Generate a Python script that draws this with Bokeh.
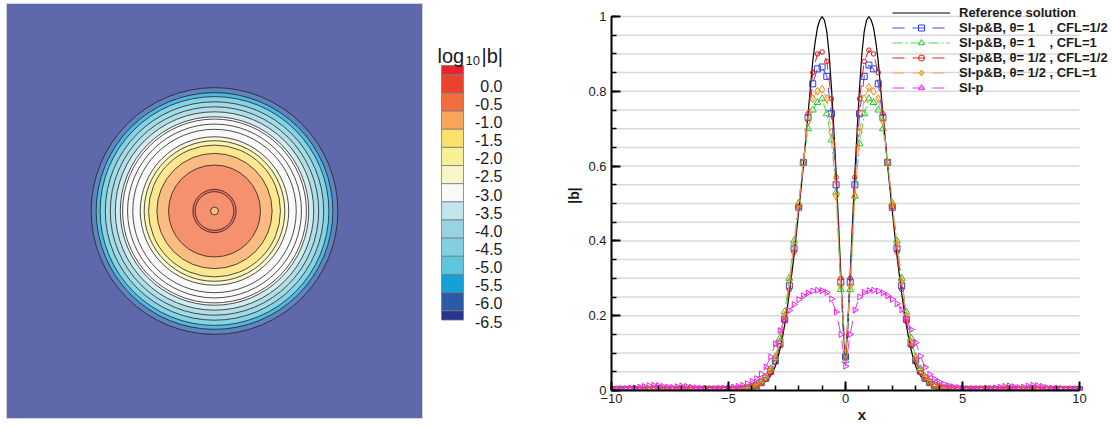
import math
from bokeh.plotting import figure
from bokeh.models import (ColumnDataSource, Range1d, Label, Legend, LegendItem,
                          SingleIntervalTicker)
from bokeh.layouts import row
from bokeh.embed import file_html
from bokeh.resources import INLINE
from bokeh.core.properties import value

FONT = "Liberation Sans"

# ---------------- left panel: log10|b| contour (radially symmetric) ----------------
cbar_levels = [0.0, -0.5, -1.0, -1.5, -2.0, -2.5, -3.0, -3.5, -4.0, -4.5, -5.0, -5.5, -6.0, -6.5]
cbar_labels = ["0.0", "-0.5", "-1.0", "-1.5", "-2.0", "-2.5", "-3.0", "-3.5",
               "-4.0", "-4.5", "-5.0", "-5.5", "-6.0", "-6.5"]
cbar_colors = ["#e8222a", "#ec412d", "#f26c3f", "#f8a65a", "#fddf6c", "#f7f095", "#f8f5c8",
               "#f9f9f9", "#c2e5ec", "#95d4e0", "#84cfdf", "#5cc6de", "#16a0da", "#2a5ba8",
               "#2a358f"]
# contour band boundaries (radius, outer to inner) and colour band inside each
ring_radius = [5.93, 5.69, 5.50, 5.25, 5.01, 4.77, 4.53, 3.57, 3.38, 3.17, 2.77, 2.21, 1.04, 0.93, 0.19]
ring_band = [13, 12, 11, 10, 9, 8, 7, 6, 5, 4, 3, 2, 1, 2, 3]
extra_line_radius = [4.42, 4.18, 3.93]
outside_band = 14

# ---------------- right panel: |b| along x ----------------
ref_x = [-10.0, -5.0, -4.5, -4.0, -3.9, -3.8, -3.7, -3.6, -3.5, -3.4, -3.3, -3.2, -3.1, -3.0,
         -2.9, -2.8, -2.7, -2.6, -2.5, -2.4, -2.3, -2.2, -2.1, -2.0, -1.9, -1.8, -1.7, -1.6,
         -1.5, -1.4, -1.3, -1.2, -1.1, -1.0, -0.9, -0.8, -0.7, -0.6, -0.5, -0.4, -0.3, -0.2,
         -0.1, 0.0, 0.1, 0.2, 0.3, 0.4, 0.5, 0.6, 0.7, 0.8, 0.9, 1.0, 1.1, 1.2, 1.3, 1.4, 1.5,
         1.6, 1.7, 1.8, 1.9, 2.0, 2.1, 2.2, 2.3, 2.4, 2.5, 2.6, 2.7, 2.8, 2.9, 3.0, 3.1, 3.2,
         3.3, 3.4, 3.5, 3.6, 3.7, 3.8, 3.9, 4.0, 4.5, 5.0, 10.0]
ref_y = [0.001, 0.001, 0.002, 0.005, 0.007, 0.009, 0.012, 0.015, 0.02, 0.025, 0.032, 0.04, 0.05,
         0.065, 0.085, 0.11, 0.14, 0.175, 0.215, 0.26, 0.31, 0.36, 0.42, 0.48, 0.54, 0.60, 0.67,
         0.74, 0.81, 0.88, 0.93, 0.97, 0.99, 1.0, 0.99, 0.96, 0.90, 0.81, 0.70, 0.58, 0.45, 0.31,
         0.17, 0.08, 0.17, 0.31, 0.45, 0.58, 0.70, 0.81, 0.90, 0.96, 0.99, 1.0, 0.99, 0.97, 0.93,
         0.88, 0.81, 0.74, 0.67, 0.60, 0.54, 0.48, 0.42, 0.36, 0.31, 0.26, 0.215, 0.175, 0.14,
         0.11, 0.085, 0.065, 0.05, 0.04, 0.032, 0.025, 0.02, 0.015, 0.012, 0.009, 0.007, 0.005,
         0.002, 0.001, 0.001]

sim_x = [-10.0, -9.8, -9.6, -9.4, -9.2, -9.0, -8.8, -8.6, -8.4, -8.2,
         -8.0, -7.8, -7.6, -7.4, -7.2, -7.0, -6.8, -6.6, -6.4, -6.2,
         -6.0, -5.8, -5.6, -5.4, -5.2, -5.0, -4.8, -4.6, -4.4, -4.2,
         -4.0, -3.8, -3.6, -3.4, -3.2, -3.0, -2.8, -2.6, -2.4, -2.2,
         -2.0, -1.8, -1.6, -1.4, -1.2, -1.0, -0.8, -0.6, -0.4, -0.2,
         0.0,
         0.2, 0.4, 0.6, 0.8, 1.0, 1.2, 1.4, 1.6, 1.8, 2.0,
         2.2, 2.4, 2.6, 2.8, 3.0, 3.2, 3.4, 3.6, 3.8, 4.0,
         4.2, 4.4, 4.6, 4.8, 5.0, 5.2, 5.4, 5.6, 5.8, 6.0,
         6.2, 6.4, 6.6, 6.8, 7.0, 7.2, 7.4, 7.6, 7.8, 8.0,
         8.2, 8.4, 8.6, 8.8, 9.0, 9.2, 9.4, 9.6, 9.8, 10.0]

b_theta1_cfl05 = [0.002, 0.002, 0.002, 0.002, 0.002, 0.002, 0.002, 0.002, 0.002, 0.002,
                  0.002, 0.002, 0.002, 0.002, 0.002, 0.002, 0.002, 0.002, 0.002, 0.002,
                  0.002, 0.002, 0.002, 0.002, 0.002, 0.002, 0.003, 0.003, 0.004, 0.006,
                  0.009, 0.013, 0.021, 0.033, 0.051, 0.079, 0.124, 0.19, 0.28, 0.38,
                  0.49, 0.61, 0.73, 0.82, 0.86, 0.865, 0.84, 0.74, 0.55, 0.29,
                  0.09,
                  0.29, 0.55, 0.74, 0.84, 0.87, 0.86, 0.82, 0.73, 0.61, 0.49,
                  0.38, 0.28, 0.19, 0.125, 0.08, 0.052, 0.033, 0.021, 0.013, 0.009,
                  0.006, 0.004, 0.003, 0.003, 0.002, 0.002, 0.002, 0.002, 0.002, 0.002,
                  0.002, 0.002, 0.002, 0.002, 0.002, 0.002, 0.002, 0.002, 0.002, 0.002,
                  0.002, 0.002, 0.002, 0.002, 0.002, 0.002, 0.002, 0.002, 0.002, 0.002]

b_theta1_cfl1 = [0.002, 0.002, 0.002, 0.002, 0.002, 0.002, 0.002, 0.002, 0.002, 0.002,
                 0.002, 0.002, 0.002, 0.002, 0.002, 0.002, 0.002, 0.002, 0.002, 0.002,
                 0.002, 0.002, 0.002, 0.002, 0.002, 0.002, 0.003, 0.004, 0.005, 0.007,
                 0.01, 0.015, 0.024, 0.037, 0.058, 0.09, 0.14, 0.21, 0.30, 0.40,
                 0.50, 0.61, 0.70, 0.75, 0.77, 0.78, 0.74, 0.67, 0.53, 0.27,
                 0.08,
                 0.27, 0.52, 0.66, 0.74, 0.78, 0.77, 0.75, 0.70, 0.61, 0.50,
                 0.40, 0.30, 0.21, 0.14, 0.09, 0.058, 0.037, 0.024, 0.015, 0.01,
                 0.007, 0.005, 0.004, 0.003, 0.002, 0.002, 0.002, 0.002, 0.002, 0.002,
                 0.002, 0.002, 0.002, 0.002, 0.002, 0.002, 0.002, 0.002, 0.002, 0.002,
                 0.002, 0.002, 0.002, 0.002, 0.002, 0.002, 0.002, 0.002, 0.002, 0.002]

b_theta05_cfl05 = [0.002, 0.002, 0.002, 0.002, 0.002, 0.002, 0.002, 0.002, 0.002, 0.002,
                   0.002, 0.002, 0.002, 0.002, 0.002, 0.002, 0.002, 0.002, 0.002, 0.002,
                   0.002, 0.002, 0.002, 0.002, 0.002, 0.002, 0.002, 0.003, 0.004, 0.005,
                   0.008, 0.012, 0.019, 0.03, 0.047, 0.075, 0.12, 0.185, 0.27, 0.37,
                   0.49, 0.61, 0.74, 0.85, 0.90, 0.905, 0.88, 0.78, 0.57, 0.30,
                   0.09,
                   0.30, 0.57, 0.78, 0.88, 0.91, 0.90, 0.85, 0.74, 0.61, 0.49,
                   0.37, 0.27, 0.185, 0.12, 0.076, 0.048, 0.03, 0.019, 0.012, 0.008,
                   0.005, 0.004, 0.003, 0.002, 0.002, 0.002, 0.002, 0.002, 0.002, 0.002,
                   0.002, 0.002, 0.002, 0.002, 0.002, 0.002, 0.002, 0.002, 0.002, 0.002,
                   0.002, 0.002, 0.002, 0.002, 0.002, 0.002, 0.002, 0.002, 0.002, 0.002]

b_theta05_cfl1 = [0.003, 0.003, 0.003, 0.003, 0.003, 0.003, 0.003, 0.003, 0.003, 0.003,
                  0.003, 0.003, 0.003, 0.003, 0.003, 0.003, 0.003, 0.003, 0.003, 0.003,
                  0.003, 0.003, 0.003, 0.003, 0.003, 0.003, 0.003, 0.004, 0.005, 0.007,
                  0.01, 0.015, 0.023, 0.036, 0.055, 0.085, 0.13, 0.20, 0.29, 0.39,
                  0.50, 0.61, 0.72, 0.78, 0.80, 0.805, 0.78, 0.69, 0.52, 0.28,
                  0.10,
                  0.28, 0.52, 0.69, 0.78, 0.81, 0.80, 0.78, 0.72, 0.61, 0.50,
                  0.39, 0.29, 0.20, 0.13, 0.085, 0.055, 0.036, 0.023, 0.015, 0.01,
                  0.007, 0.005, 0.004, 0.003, 0.003, 0.003, 0.003, 0.003, 0.003, 0.003,
                  0.003, 0.003, 0.003, 0.003, 0.003, 0.003, 0.003, 0.003, 0.003, 0.003,
                  0.003, 0.003, 0.003, 0.003, 0.003, 0.003, 0.003, 0.003, 0.003, 0.003]

b_si_p = [0.004, 0.004, 0.005, 0.005, 0.006, 0.007, 0.009, 0.011, 0.013, 0.014,
          0.013, 0.011, 0.009, 0.008, 0.01, 0.012, 0.011, 0.009, 0.007, 0.006,
          0.006, 0.005, 0.005, 0.006, 0.006, 0.007, 0.009, 0.011, 0.014, 0.018,
          0.024, 0.032, 0.044, 0.063, 0.09, 0.125, 0.16, 0.19, 0.214, 0.23,
          0.243, 0.253, 0.261, 0.266, 0.268, 0.267, 0.262, 0.245, 0.21, 0.15,
          0.065,
          0.15, 0.215, 0.25, 0.262, 0.267, 0.268, 0.266, 0.261, 0.253, 0.244,
          0.232, 0.216, 0.193, 0.163, 0.128, 0.092, 0.062, 0.043, 0.031, 0.023,
          0.017, 0.013, 0.01, 0.008, 0.006, 0.005, 0.005, 0.005, 0.005, 0.006,
          0.006, 0.007, 0.009, 0.011, 0.012, 0.01, 0.008, 0.009, 0.012, 0.014,
          0.013, 0.011, 0.008, 0.006, 0.005, 0.005, 0.004, 0.004, 0.004, 0.004]

series_labels = ["Reference solution",
                 "SI-p&B, \u03b8= 1    , CFL=1/2",
                 "SI-p&B, \u03b8= 1    , CFL=1",
                 "SI-p&B, \u03b8= 1/2 , CFL=1/2",
                 "SI-p&B, \u03b8= 1/2 , CFL=1",
                 "SI-p"]
y_tick_labels = {0: "0", 1: "1"}
grid_y = [0.05, 0.1, 0.15, 0.2, 0.25, 0.3, 0.35, 0.4, 0.45, 0.5,
          0.55, 0.6, 0.65, 0.7, 0.75, 0.8, 0.85, 0.9, 0.95, 1.0]
x_lo, x_hi, y_lo, y_hi = -10.0, 10.0, 0.0, 1.0


def wash(hexc, a=0.75):
    r, g, b = int(hexc[1:3], 16), int(hexc[3:5], 16), int(hexc[5:7], 16)
    return "#%02x%02x%02x" % tuple(round(a * c + (1 - a) * 255) for c in (r, g, b))


def no_align(p):
    try:
        p.frame_align = False
    except Exception:
        pass


# ---------------- left figure ----------------
pL = figure(width=430, height=426, x_range=Range1d(-10, 10), y_range=Range1d(-10, 10),
            output_backend="svg", toolbar_location=None,
            x_axis_location=None, y_axis_location=None,
            min_border_left=6, min_border_right=8, min_border_top=3, min_border_bottom=8)
no_align(pL)
pL.grid.visible = False
pL.background_fill_color = wash(cbar_colors[outside_band])
pL.border_fill_color = "white"
pL.outline_line_color = "#cfd3e6"
pL.outline_line_width = 1

ring_src = ColumnDataSource(dict(
    x=[0.0] * len(ring_radius), y=[0.0] * len(ring_radius), r=ring_radius,
    c=[wash(cbar_colors[b]) for b in ring_band]))
pL.circle("x", "y", radius="r", fill_color="c", line_color="#222222", line_width=0.8,
          source=ring_src)
extra_src = ColumnDataSource(dict(x=[0.0] * len(extra_line_radius),
                                  y=[0.0] * len(extra_line_radius), r=extra_line_radius))
pL.circle("x", "y", radius="r", fill_color=None, line_color="#222222", line_width=0.8,
          source=extra_src)

# ---------------- colour bar figure ----------------
px_per_unit = 36.3
top_px = 74.3
pC = figure(width=100, height=426, x_range=Range1d(0, 100),
            y_range=Range1d(-(426 - top_px) / px_per_unit, top_px / px_per_unit),
            output_backend="svg", toolbar_location=None,
            x_axis_location=None, y_axis_location=None, min_border=0)
no_align(pC)
pC.grid.visible = False
pC.outline_line_color = None
cap = 0.256
tops = [cbar_levels[0] + cap] + cbar_levels
bots = cbar_levels + [cbar_levels[-1] - cap]
cb_src = ColumnDataSource(dict(top=tops, bottom=bots, left=[11] * len(tops),
                               right=[33] * len(tops), c=cbar_colors))
pC.quad(left="left", right="right", top="top", bottom="bottom", fill_color="c",
        line_color="#7a7a7a", line_width=0.8, source=cb_src)
lab_src = ColumnDataSource(dict(x=[72] * len(cbar_levels),
                                y=[v - 0.3 for v in cbar_levels], t=cbar_labels))
pC.text(x="x", y="y", text="t", source=lab_src, text_align="right",
        text_baseline="middle", text_font=value(FONT), text_font_size="16px",
        text_color="#1a1a1a")
pC.add_layout(Label(x=7, y=371, x_units="screen", y_units="screen", text="log",
                    text_font=FONT, text_font_size="20px", text_color="#1a1a1a",
                    text_baseline="alphabetic"))
pC.add_layout(Label(x=35, y=366, x_units="screen", y_units="screen", text="10",
                    text_font=FONT, text_font_size="13px", text_color="#1a1a1a",
                    text_baseline="alphabetic"))
pC.add_layout(Label(x=51, y=371, x_units="screen", y_units="screen", text="|b|",
                    text_font=FONT, text_font_size="20px", text_color="#1a1a1a",
                    text_baseline="alphabetic"))

# ---------------- right figure ----------------
# frame reaches the top and right edges so the legend is not clipped
pR = figure(width=582, height=426, x_range=Range1d(x_lo, x_hi + 33 / 23.4),
            y_range=Range1d(y_lo, y_hi + 16 / 374),
            output_backend="svg", toolbar_location=None,
            min_border_left=81, min_border_right=0, min_border_top=0, min_border_bottom=36)
no_align(pR)
pR.outline_line_color = None
pR.grid.visible = False
pR.segment(x0=[x_lo] * len(grid_y), x1=[x_hi] * len(grid_y), y0=grid_y, y1=grid_y,
           line_color="#d9d9d9", line_width=1.5)

pR.xaxis.ticker = SingleIntervalTicker(interval=5, num_minor_ticks=5)
pR.yaxis.ticker = SingleIntervalTicker(interval=0.2, num_minor_ticks=4)
pR.xaxis.bounds = (x_lo, x_hi)
pR.yaxis.bounds = (y_lo, y_hi)
pR.yaxis.major_label_overrides = y_tick_labels
for ax in (pR.xaxis[0], pR.yaxis[0]):
    ax.axis_line_width = 2
    ax.axis_line_color = "black"
    ax.major_tick_in = 9
    ax.major_tick_out = 0
    ax.minor_tick_in = 5
    ax.minor_tick_out = 0
    ax.major_tick_line_width = 2
    ax.minor_tick_line_width = 1.5
    ax.major_label_text_font = FONT
    ax.major_label_text_font_size = "13px"
    ax.major_label_text_color = "#1a1a1a"
    ax.axis_label_text_font = FONT
    ax.axis_label_text_font_style = "bold"
    ax.axis_label_text_color = "#1a1a1a"
pR.xaxis.axis_label = "x"
pR.xaxis.axis_label_text_font_size = "15px"
pR.xaxis.major_label_standoff = 3
pR.xaxis.axis_label_standoff = 0
pR.yaxis.axis_label = "|b|"
pR.yaxis.axis_label_text_font_size = "14px"
pR.yaxis.major_label_standoff = 5
pR.yaxis.axis_label_standoff = 3

r_ref = pR.line(ref_x, ref_y, line_color="black", line_width=1.2)

styles = [
    (b_theta1_cfl05, "#2a3cf0", "#3a4ff0", "square", 6, 0, "12 8"),
    (b_theta1_cfl1, "#2ec82e", "#44dd44", "triangle", 7, 0, "10 3 2 3"),
    (b_theta05_cfl05, "#e01414", "#e82020", "circle", 4.5, 0, "12 8"),
    (b_theta05_cfl1, "#ff8000", "#f7a050", "diamond", 8, 0, "12 8"),
    (b_si_p, "#ee22ee", "#ee33ee", "triangle", 6, -math.pi / 2, "12 8"),
]
items = [LegendItem(label=series_labels[0], renderers=[r_ref])]
for k, (ys, mcol, lcol, mk, sz, ang, dash) in enumerate(styles):
    rl = pR.line(sim_x, ys, line_color=lcol, line_width=1, line_dash=dash)
    rs = pR.scatter(sim_x, ys, marker=mk, size=sz, angle=ang, line_color=mcol,
                    fill_color=None, line_width=1)
    items.append(LegendItem(label=series_labels[k + 1], renderers=[rl, rs]))

legend = Legend(items=items, location=(281, 295), orientation="vertical",
                glyph_width=58, glyph_height=15, label_height=15, label_standoff=9,
                spacing=0, padding=0, margin=0,
                label_text_font=FONT, label_text_font_style="bold",
                label_text_font_size="13px", label_text_color="#1a1a1a",
                background_fill_alpha=0, border_line_alpha=0)
pR.add_layout(legend)

layout = row(pL, pC, pR)
open("out.html", "w").write(file_html(layout, INLINE))
